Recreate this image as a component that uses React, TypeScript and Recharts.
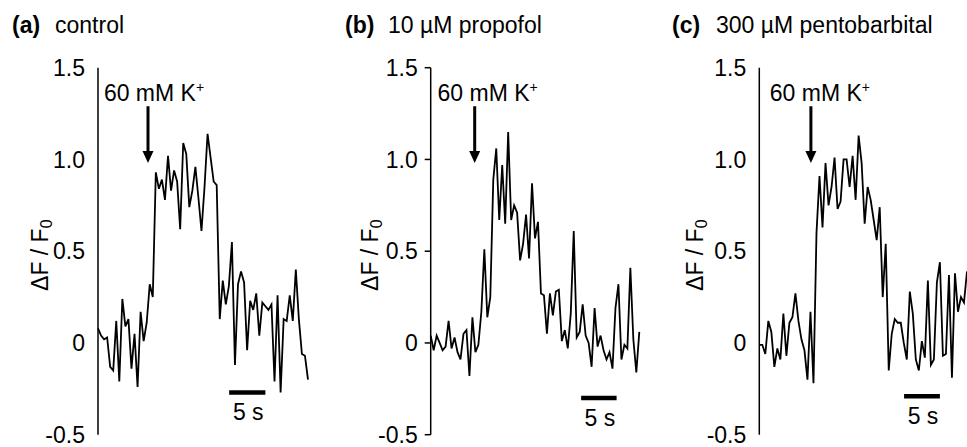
import { LineChart, Line, XAxis, YAxis, ReferenceLine } from 'recharts';

// sampling interval of the traces (s)
const SAMPLE_S = 0.42;

const yTicks = [-0.5, 0, 0.5, 1.0, 1.5];

const panelLetters = ['(a)', '(b)', '(c)'];
const panelNames = ['control', '10 µM propofol', '300 µM pentobarbital'];

// ΔF/F0 traces
const controlValues = [
  0.08, 0.04, 0.02, 0.03, -0.13, -0.15, 0.12, -0.21, 0.24, 0.09,
  0.13, -0.14, 0.05, -0.24, 0.17, 0.01, 0.11, 0.32, 0.25, 0.93,
  0.84, 0.89, 0.78, 1.02, 0.83, 0.94, 0.88, 0.62, 1.09, 1.03,
  0.74, 0.83, 0.96, 0.79, 0.61, 0.85, 1.14, 1.01, 0.88, 0.86,
  0.13, 0.34, 0.21, 0.31, 0.55, -0.12, 0.32, 0.39, 0.33, -0.04,
  0.23, 0.18, 0.27, 0.04, 0.22, 0.2, 0.18, 0.21, -0.21, 0.26,
  -0.27, 0.13, 0.12, 0.26, 0.12, 0.4, 0.13, -0.06, -0.07, -0.2,
];

const propofolValues = [
  0.04, -0.04, 0.04, 0.0, -0.04, -0.02, 0.12, -0.03, 0.03, -0.05,
  -0.09, 0.05, 0.07, -0.18, 0.14, -0.05, -0.01, 0.17, 0.51, 0.14,
  0.25, 0.89, 1.06, 0.67, 0.97, 0.65, 1.15, 0.67, 0.75, 0.71,
  0.45, 0.54, 0.7, 0.46, 0.87, 0.57, 0.66, 0.27, 0.26, 0.05,
  0.27, 0.15, 0.28, 0.29, 0.01, 0.07, -0.03, 0.16, 0.61, 0.03,
  0.06, 0.21, 0.04, 0.0, -0.13, 0.19, -0.02, 0.04, -0.04, -0.09,
  -0.05, -0.14, 0.19, 0.32, -0.09, -0.01, -0.03, 0.41, 0.02, -0.16,
  0.06,
];

const pentobarbitalValues = [
  -0.01, -0.01, -0.06, 0.12, 0.06, -0.13, -0.03, -0.09, 0.16, -0.07,
  0.11, 0.14, 0.27, 0.12, 0.02, -0.04, -0.2, 0.17, -0.22, 0.6,
  0.91, 0.63, 0.98, 0.75, 0.85, 1.01, 0.73, 0.77, 1.0, 1.0,
  0.85, 1.02, 0.78, 1.13, 0.98, 0.65, 0.85, 0.78, 0.67, 0.56,
  0.74, 0.25, 0.54, -0.15, 0.05, 0.13, 0.11, 0.11, 0.0, -0.09,
  0.28, 0.16, -0.09, -0.15, 0.01, -0.08, 0.34, -0.12, -0.09, 0.33,
  0.44, -0.07, -0.06, 0.37, -0.19, 0.38, 0.17, 0.25, 0.22, 0.39,
];

// time of the K+ application arrow and start of the 5 s scale bar (s)
const arrowTimes = [6.9, 6.2, 7.2];
const scaleBarStarts = [18.1, 21.2, 20.2];
const scaleBarLevels = [-0.27, -0.3, -0.29];
const SCALE_BAR_S = 5;

const FONT = '"Liberation Sans", Arial, Helvetica, sans-serif';

const toRows = (values: number[]) => values.map((v, i) => ({ t: +(i * SAMPLE_S).toFixed(2), v }));

const YLabel = ({ viewBox, dx }: any) => {
  const vb = viewBox || { x: 0, y: 0, width: 0, height: 0 };
  const cx = vb.x + vb.width + dx;
  const cy = vb.y + vb.height / 2 + 4;
  return (
    <text
      x={cx}
      y={cy}
      transform={`rotate(-90 ${cx} ${cy})`}
      textAnchor="middle"
      dominantBaseline="central"
      fontSize={23}
      fontFamily={FONT}
      fill="#000"
    >
      ΔF / F<tspan fontSize={16} dy={6}>0</tspan>
    </text>
  );
};

const arrowShape = (dx: number) => (p: any) => {
  const { x1, y1, x2, y2 } = p;
  const head = 12;
  return (
    <g>
      <line x1={x1} y1={y1} x2={x2} y2={y2 - head + 1} stroke="#000" strokeWidth={3} />
      <polygon points={`${x2 - 5.5},${y2 - head} ${x2 + 5.5},${y2 - head} ${x2},${y2}`} fill="#000" />
      <text x={x1 + dx} y={y1 - 5} textAnchor="middle" fontSize={23} fontFamily={FONT} fill="#000">
        60 mM K<tspan fontSize={14} dy={-9}>+</tspan>
      </text>
    </g>
  );
};

const scaleBarShape = (p: any) => {
  const { x1, y1, x2 } = p;
  return (
    <g>
      <line x1={x1} y1={y1} x2={x2} y2={y1} stroke="#000" strokeWidth={4.5} />
      <text x={(x1 + x2) / 2 + 1} y={y1 + 28} textAnchor="middle" fontSize={23} fontFamily={FONT} fill="#000">
        5 s
      </text>
    </g>
  );
};

const Panel = ({ values, idx, left, width, marginLeft, marginRight, showTicks, labelDx, arrowDx }: any) => {
  const rows = toRows(values);
  const tMax = rows[rows.length - 1].t;
  return (
    <div style={{ position: 'absolute', left, top: 0 }}>
      <LineChart width={width} height={447} data={rows} margin={{ top: 67.7, right: marginRight, bottom: 12.3, left: marginLeft }}>
        <XAxis dataKey="t" type="number" domain={[0, tMax]} hide />
        <YAxis
          width={50}
          domain={[-0.5, 1.5]}
          ticks={yTicks}
          interval={0}
          allowDataOverflow
          axisLine={{ stroke: '#000', strokeWidth: 1.5 }}
          tickLine={showTicks ? { stroke: '#000', strokeWidth: 1.5 } : false}
          tickSize={6}
          tickMargin={7}
          tick={{ fill: '#000', fontSize: 23, fontFamily: FONT }}
          tickFormatter={(v: number) => (v === 0 ? '0' : v.toFixed(1))}
          label={<YLabel dx={labelDx} />}
        />
        <Line type="linear" dataKey="v" stroke="#000" strokeWidth={1.8} dot={false} isAnimationActive={false} />
        <ReferenceLine
          segment={[{ x: arrowTimes[idx], y: 1.29 }, { x: arrowTimes[idx], y: 0.98 }]}
          shape={arrowShape(arrowDx)}
        />
        <ReferenceLine
          segment={[
            { x: scaleBarStarts[idx], y: scaleBarLevels[idx] },
            { x: scaleBarStarts[idx] + SCALE_BAR_S, y: scaleBarLevels[idx] },
          ]}
          shape={scaleBarShape}
        />
      </LineChart>
    </div>
  );
};

const titleX = [
  [12, 55],
  [345, 388],
  [672, 716],
];

export default function App() {
  return (
    <div style={{ position: 'absolute', left: 0, top: 0, width: 967, height: 447, background: '#fff', overflow: 'hidden' }}>
      <svg width={967} height={447} style={{ position: 'absolute', left: 0, top: 0 }}>
        {panelLetters.map((l, i) => (
          <g key={l}>
            <text x={titleX[i][0]} y={33} fontSize={23} fontWeight="bold" fontFamily={FONT} fill="#000">{l}</text>
            <text x={titleX[i][1]} y={33} fontSize={23} fontFamily={FONT} fill="#000">{panelNames[i]}</text>
          </g>
        ))}
      </svg>
      <Panel values={controlValues} idx={0} left={0} width={320} marginLeft={48} marginRight={12} showTicks={false} labelDx={-58} arrowDx={6} />
      <Panel values={propofolValues} idx={1} left={320} width={322} marginLeft={60.7} marginRight={2.7} showTicks labelDx={-61} arrowDx={13} />
      <Panel values={pentobarbitalValues} idx={2} left={640} width={327} marginLeft={69.3} marginRight={0} showTicks={false} labelDx={-64} arrowDx={9} />
    </div>
  );
}
